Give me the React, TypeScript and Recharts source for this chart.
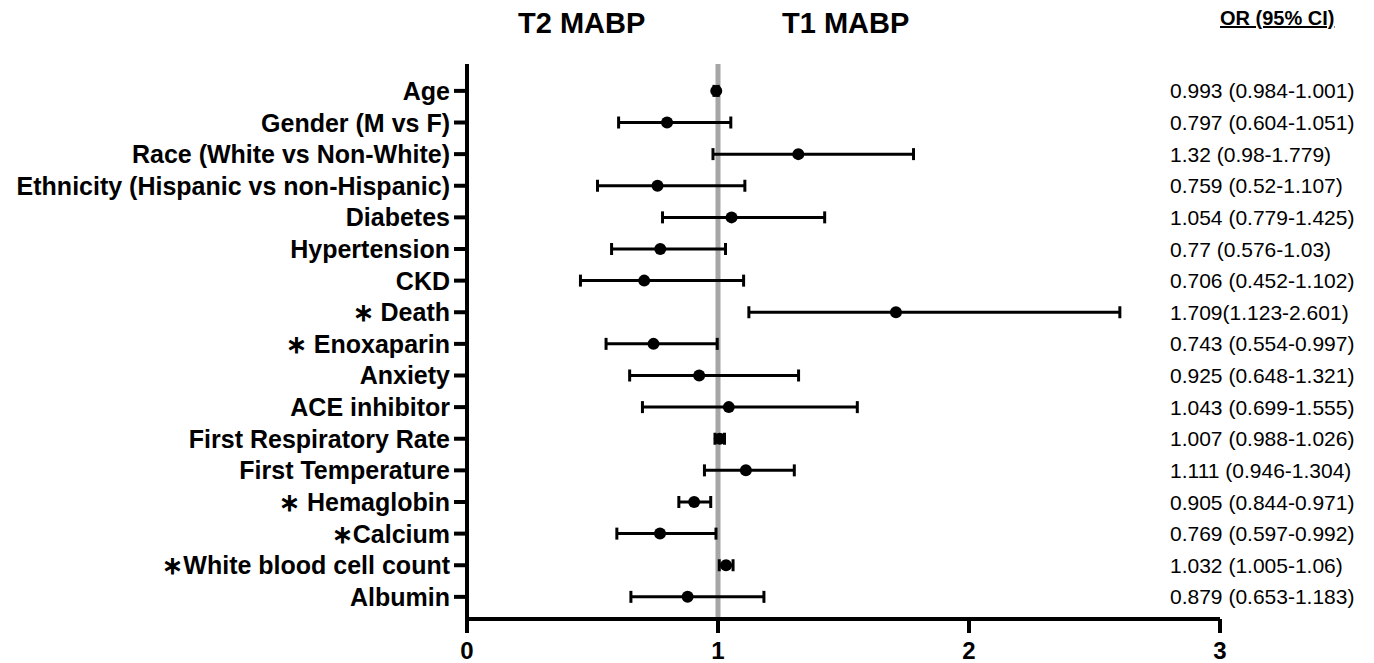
import { ScatterChart, Scatter, XAxis, YAxis, ErrorBar, ReferenceLine } from 'recharts';

// Odds ratios with 95% CI, one row per predictor (top to bottom)
const predictors = [
  'Age',
  'Gender (M vs F)',
  'Race (White vs Non-White)',
  'Ethnicity (Hispanic vs non-Hispanic)',
  'Diabetes',
  'Hypertension',
  'CKD',
  'Death',
  'Enoxaparin',
  'Anxiety',
  'ACE inhibitor',
  'First Respiratory Rate',
  'First Temperature',
  'Hemaglobin',
  'Calcium',
  'White blood cell count',
  'Albumin',
];
// asterisk prefix as printed ("* " or "*")
const significance = ['', '', '', '', '', '', '', '\u2217 ', '\u2217 ', '', '', '', '', '\u2217 ', '\u2217', '\u2217', ''];
const oddsRatios = [0.993, 0.797, 1.32, 0.759, 1.054, 0.77, 0.706, 1.709, 0.743, 0.925, 1.043, 1.007, 1.111, 0.905, 0.769, 1.032, 0.879];
const ciLower = [0.984, 0.604, 0.98, 0.52, 0.779, 0.576, 0.452, 1.123, 0.554, 0.648, 0.699, 0.988, 0.946, 0.844, 0.597, 1.005, 0.653];
const ciUpper = [1.001, 1.051, 1.779, 1.107, 1.425, 1.03, 1.102, 2.601, 0.997, 1.321, 1.555, 1.026, 1.304, 0.971, 0.992, 1.06, 1.183];
const ciLabels = [
  '0.993 (0.984-1.001)',
  '0.797 (0.604-1.051)',
  '1.32 (0.98-1.779)',
  '0.759 (0.52-1.107)',
  '1.054 (0.779-1.425)',
  '0.77 (0.576-1.03)',
  '0.706 (0.452-1.102)',
  '1.709(1.123-2.601)',
  '0.743 (0.554-0.997)',
  '0.925 (0.648-1.321)',
  '1.043 (0.699-1.555)',
  '1.007 (0.988-1.026)',
  '1.111 (0.946-1.304)',
  '0.905 (0.844-0.971)',
  '0.769 (0.597-0.992)',
  '1.032 (1.005-1.06)',
  '0.879 (0.653-1.183)',
];
const xTicks = [0, 1, 2, 3];

const rows = predictors.map((name, i) => ({
  row: i,
  or: oddsRatios[i],
  err: [oddsRatios[i] - ciLower[i], ciUpper[i] - oddsRatios[i]],
}));
const rowTicks = rows.map((r) => r.row);

const font = '"Liberation Sans", Arial, Helvetica, sans-serif';

function LeftTick(props: any) {
  const { x, y, payload } = props;
  const i = payload.value;
  return (
    <text x={x} y={y} dy="0.36em" textAnchor="end" fontFamily={font} fontSize={25} fontWeight="bold" fill="#000">
      {significance[i]}
      {predictors[i]}
    </text>
  );
}

function RightTick(props: any) {
  const { x, y, payload } = props;
  return (
    <text x={x - 50} y={y} dy="0.36em" textAnchor="start" fontFamily={font} fontSize={21} fill="#000">
      {ciLabels[payload.value]}
    </text>
  );
}

export default function App() {
  return (
    <div style={{ position: 'absolute', left: 0, top: 0, width: 1374, height: 663, background: '#fff', fontFamily: font }}>
      <div style={{ position: 'absolute', left: 518, top: 7, fontSize: 29, fontWeight: 'bold' }}>T2 MABP</div>
      <div style={{ position: 'absolute', left: 782, top: 7, fontSize: 29, fontWeight: 'bold' }}>T1 MABP</div>
      <div style={{ position: 'absolute', left: 1220, top: 7, fontSize: 20, fontWeight: 'bold', textDecoration: 'underline' }}>
        OR (95% CI)
      </div>
      <ScatterChart width={1374} height={663} margin={{ top: 64, right: 0, bottom: 0, left: 0 }}>
        <XAxis
          type="number"
          dataKey="or"
          domain={[0, 3]}
          ticks={xTicks}
          height={44}
          tickSize={14}
          tickMargin={9}
          axisLine={{ stroke: '#000', strokeWidth: 4 }}
          tickLine={{ stroke: '#000', strokeWidth: 4 }}
          tick={{ fill: '#000', fontSize: 24, fontWeight: 'bold', fontFamily: font }}
        />
        <YAxis
          type="number"
          dataKey="row"
          domain={[-0.85, 16.7]}
          reversed
          ticks={rowTicks}
          interval={0}
          width={467}
          tickSize={13}
          tickMargin={4}
          axisLine={{ stroke: '#000', strokeWidth: 4 }}
          tickLine={{ stroke: '#000', strokeWidth: 4 }}
          tick={<LeftTick />}
        />
        <YAxis
          yAxisId="ci"
          orientation="right"
          type="number"
          dataKey="row"
          domain={[-0.85, 16.7]}
          reversed
          ticks={rowTicks}
          interval={0}
          width={154}
          tickSize={0}
          tickMargin={0}
          axisLine={false}
          tickLine={false}
          tick={<RightTick />}
        />
        <ReferenceLine x={1} stroke="#a6a6a6" strokeWidth={5} />
        {/* invisible series that carries the OR (95% CI) text column */}
        <Scatter data={rows} yAxisId="ci" isAnimationActive={false} shape={() => <g />} />
        <Scatter
          data={rows}
          isAnimationActive={false}
          fill="#000"
          shape={(p: any) => <circle cx={p.cx} cy={p.cy} r={6} fill="#000" />}
        >
          <ErrorBar dataKey="err" direction="x" width={6} stroke="#000" strokeWidth={3} isAnimationActive={false} />
        </Scatter>
      </ScatterChart>
    </div>
  );
}
